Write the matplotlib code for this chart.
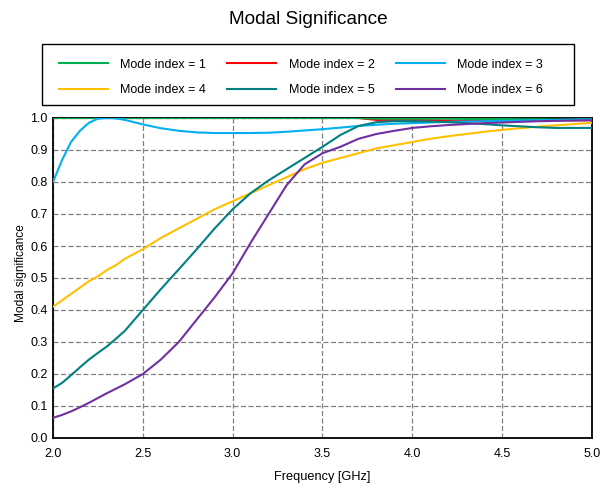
import matplotlib
matplotlib.use("Agg")
import matplotlib.pyplot as plt
from matplotlib.patches import Rectangle

plt.rcParams['font.family'] = ['Liberation Sans', 'DejaVu Sans']

freq = [2.0, 2.05, 2.1, 2.15, 2.2, 2.25, 2.3, 2.35, 2.4, 2.5, 2.6, 2.7, 2.8, 2.9,
        3.0, 3.1, 3.2, 3.3, 3.4, 3.5, 3.6, 3.7, 3.8, 3.9, 4.0, 4.1, 4.2, 4.3, 4.4,
        4.5, 4.6, 4.7, 4.8, 4.9, 5.0]

mode1 = [1.0] * 22 + [0.998, 0.998, 0.998, 0.998, 0.998, 0.997, 0.997, 0.997,
                      0.996, 0.996, 0.995, 0.995, 0.995]
mode2 = [1.0] * 22 + [0.994, 0.994, 0.994, 0.993, 0.992, 0.991, 0.991, 0.991,
                      0.992, 0.993, 0.993, 0.993, 0.993]
mode3 = [0.80, 0.868, 0.925, 0.96, 0.985, 0.998, 1.0, 0.999, 0.994, 0.980, 0.968,
         0.960, 0.955, 0.953, 0.953, 0.953, 0.954, 0.957, 0.961, 0.965, 0.970,
         0.975, 0.979, 0.982, 0.984, 0.986, 0.988, 0.989, 0.990, 0.991, 0.992,
         0.993, 0.994, 0.995, 0.996]
mode4 = [0.41, 0.43, 0.45, 0.47, 0.49, 0.505, 0.525, 0.54, 0.56, 0.59, 0.625,
         0.655, 0.685, 0.715, 0.74, 0.765, 0.79, 0.815, 0.84, 0.86, 0.875, 0.89,
         0.905, 0.915, 0.925, 0.935, 0.943, 0.95, 0.957, 0.963, 0.968, 0.973,
         0.977, 0.981, 0.985]
mode5 = [0.155, 0.172, 0.196, 0.221, 0.245, 0.266, 0.286, 0.31, 0.335, 0.40, 0.465,
         0.527, 0.59, 0.655, 0.715, 0.765, 0.805, 0.84, 0.875, 0.91, 0.947, 0.975,
         0.987, 0.99, 0.99, 0.989, 0.987, 0.984, 0.981, 0.977, 0.974, 0.971,
         0.969, 0.969, 0.969]
mode6 = [0.063, 0.072, 0.083, 0.096, 0.11, 0.125, 0.14, 0.154, 0.168, 0.20, 0.245,
         0.30, 0.37, 0.44, 0.515, 0.61, 0.70, 0.79, 0.855, 0.89, 0.91, 0.935,
         0.95, 0.96, 0.969, 0.974, 0.978, 0.981, 0.984, 0.986, 0.988, 0.99,
         0.991, 0.992, 0.993]

labels = ["Mode index = 1", "Mode index = 2", "Mode index = 3",
          "Mode index = 4", "Mode index = 5", "Mode index = 6"]
series = [mode1, mode2, mode3, mode4, mode5, mode6]
colors = ["#00B050", "#FF0000", "#00B0F0", "#FFC000", "#008080", "#7030A0"]

xticks = [2.0, 2.5, 3.0, 3.5, 4.0, 4.5, 5.0]
yticks = [0.0, 0.1, 0.2, 0.3, 0.4, 0.5, 0.6, 0.7, 0.8, 0.9, 1.0]

W, H = 613, 488
fig = plt.figure(figsize=(W / 100, H / 100), dpi=100)
ax = fig.add_axes([53 / W, 1 - 438 / H, (592 - 53) / W, (438 - 118) / H])

order = [1, 0, 2, 3, 4, 5]
handles = [None] * 6
for i in order:
    h, = ax.plot(freq, series[i], color=colors[i], lw=1.5, label=labels[i], zorder=3)
    handles[i] = h

ax.set_xlim(2.0, 5.0)
ax.set_ylim(0.0, 1.0)
ax.set_xticks(xticks)
ax.set_xticklabels([f"{v:.1f}" for v in xticks])
ax.set_yticks(yticks)
ax.set_yticklabels([f"{v:.1f}" for v in yticks])
ax.tick_params(length=0, labelsize=9)
ax.tick_params(axis="x", pad=7.5)
ax.tick_params(axis="y", pad=4)
ax.grid(True, color="#808080", linestyle=(0, (4, 2)), linewidth=0.9)
for s in ax.spines.values():
    s.set_color("black")
    s.set_linewidth(1.3)

ax.set_xlabel("Frequency [GHz]", fontsize=9.2, labelpad=7.5)
ax.set_ylabel("Modal significance", fontsize=8.6)
ax.yaxis.label.set_va("center")
ax.yaxis.set_label_coords((21 - 53) / (592 - 53), (438 - 273.5) / 320)

fig.text(308 / W, 1 - 20 / H, "Modal Significance", ha="center", va="center", fontsize=13.7)

# legend frame
fig.patches.append(Rectangle((42 / W, 1 - 105 / H), (574 - 42) / W, (105 - 44) / H,
                             transform=fig.transFigure, fill=False,
                             edgecolor="black", linewidth=1.0))

# row-wise ordering for column-filled legend
idx = [0, 3, 1, 4, 2, 5]
leg = fig.legend([handles[i] for i in idx], [labels[i] for i in idx],
                 loc="center left", bbox_to_anchor=(59 / W, 1 - 77.5 / H),
                 ncol=3, fontsize=9, frameon=False, handlelength=3.9,
                 handletextpad=1.0, columnspacing=1.7, labelspacing=1.1,
                 borderpad=0, borderaxespad=0)

fig.savefig("out.png", dpi=100)
